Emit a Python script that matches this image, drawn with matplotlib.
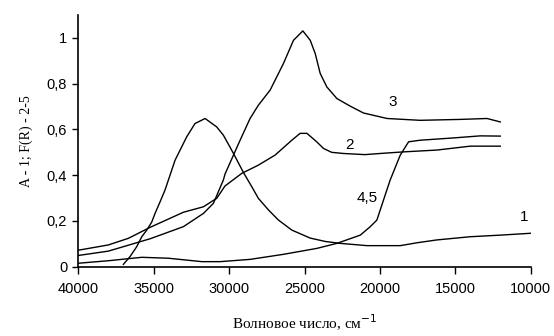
import matplotlib
matplotlib.use("Agg")
import matplotlib.pyplot as plt

# Curve 1 (absorbance)
x1 = [37010, 36570, 36130, 35790, 35460, 35130, 34910, 34600, 34250, 33580, 32810, 32260,
      31590, 30820, 30380, 30000, 29710, 29050, 28490, 28060, 27390, 26730, 25840, 24620,
      23600, 22640, 20860, 18650, 17500, 16220, 14010, 12000, 10030]
y1 = [0.01, 0.044, 0.087, 0.131, 0.16, 0.195, 0.233, 0.28, 0.335, 0.466, 0.568, 0.626,
      0.648, 0.611, 0.575, 0.53, 0.495, 0.412, 0.349, 0.299, 0.248, 0.204, 0.16, 0.125,
      0.11, 0.102, 0.092, 0.092, 0.105, 0.117, 0.131, 0.138, 0.146]

# Curve 2
x2 = [40000, 38010, 36680, 35240, 33030, 31700, 30820, 30270, 29160, 28060, 26950, 25840,
      25290, 24840, 24190, 23740, 23200, 22420, 21000, 19980, 18430, 16220, 14010, 12020]
y2 = [0.072, 0.095, 0.124, 0.172, 0.238, 0.262, 0.299, 0.353, 0.408, 0.444, 0.488, 0.553,
      0.583, 0.583, 0.546, 0.517, 0.5, 0.495, 0.49, 0.495, 0.502, 0.51, 0.527, 0.527]

# Curve 3
x3 = [40000, 38010, 35240, 33030, 31700, 31040, 30380, 30270, 29710, 29270, 28610, 28060,
      27280, 26400, 25730, 25110, 24620, 24290, 23960, 23520, 22850, 21970, 21090, 19980,
      19530, 17330, 14670, 12900, 12020]
y3 = [0.049, 0.068, 0.122, 0.175, 0.233, 0.277, 0.379, 0.405, 0.488, 0.553, 0.648, 0.706,
      0.772, 0.888, 0.99, 1.031, 0.99, 0.932, 0.845, 0.786, 0.735, 0.702, 0.672, 0.655,
      0.648, 0.64, 0.644, 0.648, 0.633]

# Curves 4,5
x45 = [40000, 38010, 35790, 34030, 31810, 30600, 28600, 26400, 24180, 22850, 21300, 20640,
       20200, 19980, 19320, 18650, 18100, 17330, 15120, 13350, 12020]
y45 = [0.015, 0.026, 0.041, 0.037, 0.022, 0.022, 0.032, 0.054, 0.08, 0.102, 0.138, 0.175,
       0.204, 0.248, 0.379, 0.488, 0.546, 0.553, 0.563, 0.572, 0.571]

xticks = [40000, 35000, 30000, 25000, 20000, 15000, 10000]
yticks = [0, 0.2, 0.4, 0.6, 0.8, 1.0]
ytick_labels = ["0", "0,2", "0,4", "0,6", "0,8", "1"]

labels = ["1", "2", "3", "4,5"]
label_pos = [(10470, 0.218), (22000, 0.53), (19120, 0.72), (20860, 0.30)]

fig = plt.figure(figsize=(5.54, 3.36), dpi=100)
ax = fig.add_axes([0.1413, 0.2063, 0.8167, 0.7487])

for xs, ys in [(x1, y1), (x2, y2), (x3, y3), (x45, y45)]:
    ax.plot(xs, ys, color="black", lw=1.0)

ax.set_xlim(40000, 10000)
ax.set_ylim(0, 1.1)
ax.set_xticks(xticks)
ax.set_xticklabels([str(t) for t in xticks], fontfamily="Liberation Sans", fontsize=10.5)
ax.set_yticks(yticks)
ax.set_yticklabels(ytick_labels, fontfamily="Liberation Sans", fontsize=10.5)
ax.tick_params(axis="x", direction="out", length=5, width=1, pad=6)
ax.tick_params(axis="y", direction="out", length=4, width=1, pad=4)
ax.spines["top"].set_visible(False)
ax.spines["right"].set_visible(False)
for s in ["left", "bottom"]:
    ax.spines[s].set_linewidth(1.2)

for lab, (lx, ly) in zip(labels, label_pos):
    ax.text(lx, ly, lab, ha="center", va="center", fontsize=11, fontfamily="Liberation Sans")

ax.set_xlabel("Волновое число, см$^{-1}$", fontfamily="Liberation Serif", fontsize=11, labelpad=12)
ax.set_ylabel("A - 1; F(R) - 2-5", fontfamily="Liberation Serif", fontsize=10, labelpad=10)

fig.savefig("out.png", dpi=100)
